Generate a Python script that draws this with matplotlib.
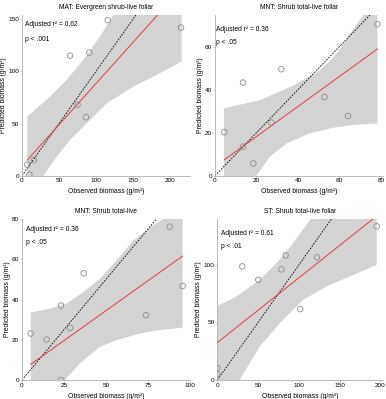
import numpy as np
import matplotlib
matplotlib.use("Agg")
import matplotlib.pyplot as plt

plt.rcParams['font.family'] = ['Liberation Sans', 'DejaVu Sans']

titles = [
    "MAT: Evergreen shrub-live foliar",
    "MNT: Shrub total-live foliar",
    "MNT: Shrub total-live",
    "ST: Shrub total-live foliar",
]
r2_labels = ["0.62", "0.36", "0.36", "0.61"]
p_labels = ["p < .001", "p < .05", "p < .05", "p < .01"]

# observed (x) vs predicted (y) points
obs1 = [7.2, 10, 16, 64.9, 91, 115.8, 86.5, 214.9, 75]
pred1 = [10.5, 1, 15, 115, 118, 149, 56, 142, 68]
obs2 = [4.5, 13.5, 13.5, 18.5, 27.2, 32, 52.8, 64.1, 78.3]
pred2 = [20.2, 43.3, 13.5, 5.7, 24.7, 49.5, 36.6, 27.8, 70.4]
obs3 = [5.2, 14.7, 23.2, 23.2, 28.6, 36.7, 73.8, 87.9, 95.6]
pred3 = [23.1, 20.1, 37, 0, 25.9, 53, 32.2, 76.2, 46.7]
obs4 = [0, 0, 30.7, 50.3, 78.5, 83.8, 101.8, 122.3, 195.5]
pred4 = [10.7, 5.2, 98.8, 87.2, 96.2, 108.4, 61.7, 106.7, 133.6]

# fitted line ends (x, y)
fit_x = [[7.2, 215.8], [4.5, 78.3], [5.2, 95.6], [0, 195.5]]
fit_y = [[15, 179.8], [7.4, 58.9], [7.8, 61.6], [32.5, 142.6]]

# confidence band edges
up_x1 = [7.2, 37.8, 60.4, 82.9, 105.4, 123.4, 215.8]
up_y1 = [56.6, 75.8, 91.8, 111, 133.4, 154, 255]
lo_x1 = [7.2, 28.8, 46.8, 64.9, 87.4, 114.4, 150.5, 182, 215.8]
lo_y1 = [-22, 0, 18.2, 34.2, 50.2, 69.4, 85.4, 96.6, 109.4]

up_x2 = [4.3, 21.6, 37.7, 50.6, 58.6, 65.1, 71.5, 78.3]
up_y2 = [31.3, 35.1, 41.9, 48.8, 56.6, 65.9, 74.6, 90]
lo_x2 = [4.3, 20, 26.4, 34.5, 45.7, 57, 66.7, 78.3]
lo_y2 = [-20, 0, 8.8, 15, 19.7, 22.3, 23.6, 24.3]

up_x3 = [5.2, 16.7, 26.6, 36.5, 46.4, 56.3, 66.3, 76.2, 84.1, 95.6]
up_y3 = [33.5, 35.5, 38, 43.7, 50.3, 59.4, 69.3, 75.9, 80, 95]
lo_x3 = [5.2, 25.6, 34.5, 46.4, 56.3, 70.2, 82.1, 95.6]
lo_y3 = [-15, 0, 8.3, 16.5, 19.8, 23.1, 24.8, 26.1]

up_x4 = [0, 23.3, 51.9, 72.4, 92.8, 109.2, 113.3, 195.5]
up_y4 = [64.3, 72.5, 87, 101.4, 118.8, 134.8, 139, 200]
lo_x4 = [0, 27.4, 51.9, 76.5, 105.1, 133.7, 166.5, 195.5]
lo_y4 = [-15, 0, 29, 49.3, 69.6, 81.2, 91.3, 100]

xlims = [227, 81, 100, 203]
ylims = [154, 74.7, 80, 140]
xticks = [[0, 50, 100, 150, 200], [0, 20, 40, 60, 80], [0, 25, 50, 75, 100], [0, 50, 100, 150, 200]]
yticks = [[0, 50, 100, 150], [0, 20, 40, 60], [0, 20, 40, 60, 80], [0, 50, 100]]

W, H = 386, 399
# axes boxes in pixels: left, top, right, bottom
boxes = [(22, 15, 190, 175.7), (215, 15, 383, 175.7), (22, 219, 190, 380), (217.3, 219, 382.8, 380)]
text_pos = [(0.018, 0.938, 0.849), (0.008, 0.911, 0.828), (0.024, 0.936, 0.853), (0.024, 0.911, 0.832)]

obs = [obs1, obs2, obs3, obs4]
pred = [pred1, pred2, pred3, pred4]
bands = [(up_x1, up_y1, lo_x1, lo_y1), (up_x2, up_y2, lo_x2, lo_y2),
         (up_x3, up_y3, lo_x3, lo_y3), (up_x4, up_y4, lo_x4, lo_y4)]

fig = plt.figure(figsize=(W / 100, H / 100), dpi=100)
for i in range(4):
    l, t, r, b = boxes[i]
    ax = fig.add_axes([l / W, 1 - b / H, (r - l) / W, (b - t) / H])
    ux, uy, lx, ly = bands[i]
    ax.fill(list(ux) + list(lx[::-1]), list(uy) + list(ly[::-1]), color='#d3d3d3', lw=0, zorder=1)
    ax.axline((0, 0), slope=1, color='black', lw=0.6, ls=(0, (2, 1.5)), zorder=2)
    ax.plot(fit_x[i], fit_y[i], color='#e0403a', lw=0.7, zorder=3)
    ax.scatter(obs[i], pred[i], s=16, facecolors='none', edgecolors='#8c8c8c', linewidths=0.6, zorder=4)
    ax.set_xlim(0, xlims[i])
    ax.set_ylim(0, ylims[i])
    ax.set_xticks(xticks[i])
    ax.set_yticks(yticks[i])
    for s in ['top', 'right']:
        ax.spines[s].set_visible(False)
    for s in ['left', 'bottom']:
        ax.spines[s].set_color('#b0b0b0')
        ax.spines[s].set_linewidth(0.6)
    ax.tick_params(labelsize=4.6, length=1.2, width=0.5, color='#b0b0b0', pad=0.8)
    ax.set_title(titles[i], fontsize=4.8, pad=4)
    ax.set_xlabel("Observed biomass (g/m²)", fontsize=4.9, labelpad=3.5)
    ax.set_ylabel("Predicted biomass (g/m²)", fontsize=4.9, labelpad=1)
    tx, ty1, ty2 = text_pos[i]
    ax.text(tx, ty1, "Adjusted r² = " + r2_labels[i], transform=ax.transAxes, fontsize=4.8, va='center')
    ax.text(tx, ty2, p_labels[i], transform=ax.transAxes, fontsize=4.8, va='center')

fig.savefig("out.png", dpi=100)
